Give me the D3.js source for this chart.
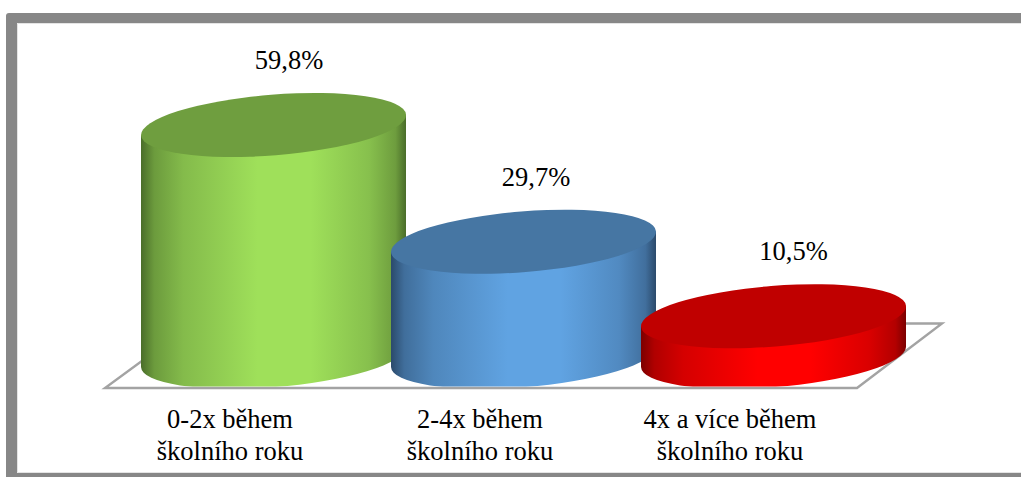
<!DOCTYPE html>
<html>
<head>
<meta charset="utf-8">
<script src="https://cdn.jsdelivr.net/npm/d3@7/dist/d3.min.js"></script>
<style>
html,body{margin:0;padding:0;background:#fff;overflow:hidden}
svg{display:block}
text{font-family:"Liberation Serif",serif;fill:#000}
</style>
</head>
<body>
<svg id="c" width="1021" height="477"></svg>
<script>
const categories = ["0-2x během školního roku", "2-4x během školního roku", "4x a více během školního roku"];
const categoryLines = [["0-2x během", "školního roku"], ["2-4x během", "školního roku"], ["4x a více během", "školního roku"]];
const values = [59.8, 29.7, 10.5];
const valueLabels = ["59,8%", "29,7%", "10,5%"];
const sideColors = ["#9fe05a", "#60a3e2", "#ff0000"];
const edgeColors = ["#4a6d2a", "#2b4a6b", "#7c0000"];
const topColors = ["#6f9e3f", "#4676a3", "#c00000"];

const svg = d3.select("#c");
const x = d3.scaleBand().domain(categories).range([148.5, 898.5]);
const y = d3.scaleLinear().domain([0, 59.8]).range([357, 125]);

const defs = svg.append("defs");
defs.append("clipPath").attr("id", "floorClip").append("rect")
  .attr("x", 0).attr("y", 0).attr("width", 1021).attr("height", 386.5);

// frame
svg.append("path").attr("fill", "#878787")
  .attr("d", "M1021,13 H9 Q6,13 6,16 V477 H1021 V473 H17 V23 H1021 Z");
svg.append("path").attr("fill", "none").attr("stroke", "#e4e4e4").attr("stroke-width", 1)
  .attr("d", "M1021,23.5 H17.5 V472.5 H1021");

// floor
svg.append("path")
  .attr("d", "M193,323.5 H942 L857,388 H105 Z")
  .attr("fill", "#fff").attr("stroke", "#a3a3a3").attr("stroke-width", 2.4).attr("stroke-linejoin", "miter");

// cylinder geometry
const W = 265, a = 132.9, b = 30.3, rot = -4.55, tangentDy = 10;
const labelShift = [15.5, 12.5, 20];
const g = svg.append("g").attr("clip-path", "url(#floorClip)");

categories.forEach((cat, i) => {
  const grad = defs.append("linearGradient").attr("id", "side" + i)
    .attr("x1", 0).attr("x2", 1).attr("y1", 0).attr("y2", 0);
  const mix = d3.interpolateRgb(edgeColors[i], sideColors[i]);
  [[0, edgeColors[i]],
   [0.05, mix(0.4)],
   [0.16, mix(0.68)],
   [0.44, sideColors[i]],
   [0.64, sideColors[i]],
   [0.86, mix(0.72)],
   [0.96, mix(0.42)],
   [1, edgeColors[i]]].forEach(s => grad.append("stop").attr("offset", s[0]).attr("stop-color", s[1]));

  const cx = x(cat) + x.bandwidth() / 2;
  const cy = y(values[i]);
  const base = y(0);
  const xl = cx - W / 2, xr = cx + W / 2;

  g.append("path")
    .attr("fill", "url(#side" + i + ")")
    .attr("d", `M${xl},${cy + tangentDy} L${xl},${base + tangentDy} A${a},${b} ${rot} 0 0 ${xr},${base - tangentDy} L${xr},${cy - tangentDy} Z`);

  g.append("ellipse")
    .attr("cx", cx).attr("cy", cy).attr("rx", a).attr("ry", b)
    .attr("transform", `rotate(${rot} ${cx} ${cy})`)
    .attr("fill", topColors[i]);

  svg.append("text")
    .attr("x", cx + labelShift[i]).attr("y", cy - 56)
    .attr("text-anchor", "middle").attr("font-size", 26.5)
    .text(valueLabels[i]);
});

categories.forEach((cat, i) => {
  const cx = x(cat) + x.bandwidth() / 2 - 43.5;
  categoryLines[i].forEach((line, k) => {
    svg.append("text")
      .attr("x", cx).attr("y", 428 + k * 31.5)
      .attr("text-anchor", "middle").attr("font-size", 26.5)
      .text(line);
  });
});
</script>
</body>
</html>
